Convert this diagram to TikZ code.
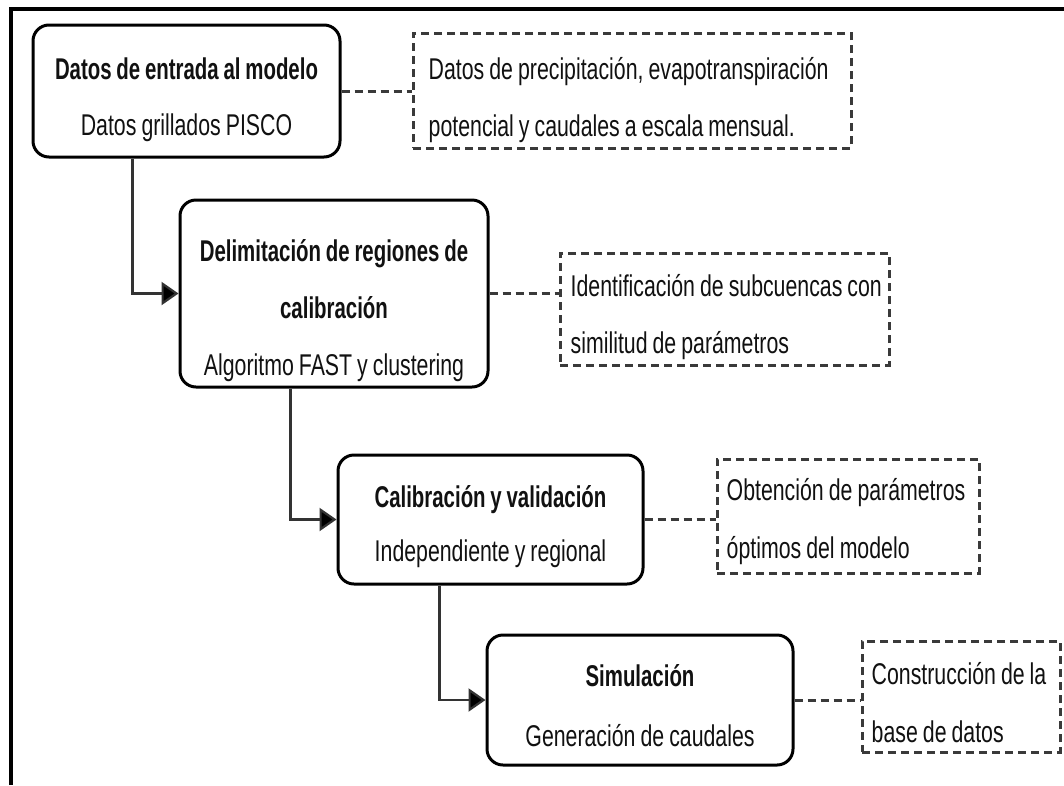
\documentclass[tikz,border=0pt]{standalone}
\usepackage{fontspec}
\setmainfont{Liberation Sans}[WordSpace=0.85,UprightFeatures={FakeStretch=0.71},BoldFeatures={FakeStretch=0.68}]
\usetikzlibrary{arrows.meta}
\definecolor{linegray}{HTML}{333333}
\definecolor{dashgray}{HTML}{3A3A3A}
\definecolor{txt}{HTML}{111111}
\tikzset{
  stepbox/.style={draw=black, line width=3pt, rounded corners=16pt, inner sep=0pt},
  notebox/.style={draw=dashgray, line width=3pt, dash pattern=on 8pt off 5pt, inner sep=0pt},
  steptext/.style={align=center, text=txt, inner sep=0pt},
  notetext/.style={align=left, text=txt, inner sep=0pt, anchor=west},
  link/.style={draw=linegray, line width=2.2pt, -{Triangle[length=17pt,width=23pt,fill=black]}},
  dlink/.style={draw=dashgray, line width=3pt, dash pattern=on 8pt off 5pt}
}
\begin{document}
\begin{tikzpicture}[x=1pt,y=-1pt]
\useasboundingbox (0,0) rectangle (1064,785);
\fill[white] (0,0) rectangle (1064,785);
% frame
\draw[line width=4pt, line join=miter] (11,785) -- (11,9) -- (1064,9);

% step boxes
\node[stepbox, minimum width=307pt, minimum height=132pt] (b1) at (186.5,91) {};
\node[stepbox, minimum width=308pt, minimum height=187pt] (b2) at (334,293.5) {};
\node[stepbox, minimum width=305pt, minimum height=129pt] (b3) at (490.5,519.5) {};
\node[stepbox, minimum width=306pt, minimum height=130pt] (b4) at (640,700) {};

\node[steptext, font=\fontsize{30}{56}\selectfont] (b1t) at ([yshift=-9pt]b1.center)
  {{\bfseries Datos de entrada al modelo}\\Datos grillados PISCO};
\node[steptext, font=\fontsize{30}{57}\selectfont] (b2t) at ([yshift=-17pt]b2.center)
  {{\bfseries Delimitación de regiones de}\\{\bfseries calibración}\\Algoritmo FAST y clustering};
\node[steptext, font=\fontsize{30}{54}\selectfont] (b3t) at ([yshift=-7pt]b3.center)
  {{\bfseries Calibración y validación}\\Independiente y regional};
\node[steptext, font=\fontsize{30}{60}\selectfont] (b4t) at ([yshift=-6pt]b4.center)
  {{\bfseries Simulación}\\Generación de caudales};

% note boxes
\node[notebox, minimum width=438pt, minimum height=115pt] (d1) at (632,90.5) {};
\node[notebox, minimum width=329pt, minimum height=112pt] (d2) at (724.5,309) {};
\node[notebox, minimum width=262pt, minimum height=114pt] (d3) at (848,516) {};
\node[notebox, minimum width=198pt, minimum height=111pt] (d4) at (961,696.5) {};

\node[notetext, font=\fontsize{30}{57}\selectfont] (d1t) at ([xshift=17pt,yshift=-10pt]d1.west)
  {Datos de precipitación, evapotranspiración\\potencial y caudales a escala mensual.};
\node[notetext, font=\fontsize{30}{57}\selectfont] (d2t) at ([xshift=12pt,yshift=-8pt]d2.west)
  {Identificación de subcuencas con\\similitud de parámetros};
\node[notetext, font=\fontsize{30}{58}\selectfont] (d3t) at ([xshift=11pt,yshift=-6pt]d3.west)
  {Obtención de parámetros\\óptimos del modelo};
\node[notetext, font=\fontsize{30}{58}\selectfont] (d4t) at ([xshift=11pt,yshift=-6pt]d4.west)
  {Construcción de la\\base de datos};

% flow connectors
\draw[link] ([xshift=101pt]b1.south west) |- (b2.west);
\draw[link] ([xshift=112pt]b2.south west) |- (b3.west);
\draw[link] ([xshift=103pt]b3.south west) |- (b4.west);

% dashed links
\draw[dlink] (b1.east) -- (d1.west |- b1.east);
\draw[dlink] (b2.east) -- (d2.west |- b2.east);
\draw[dlink] (b3.east) -- (d3.west |- b3.east);
\draw[dlink] (b4.east) -- (d4.west |- b4.east);
\end{tikzpicture}
\end{document}
